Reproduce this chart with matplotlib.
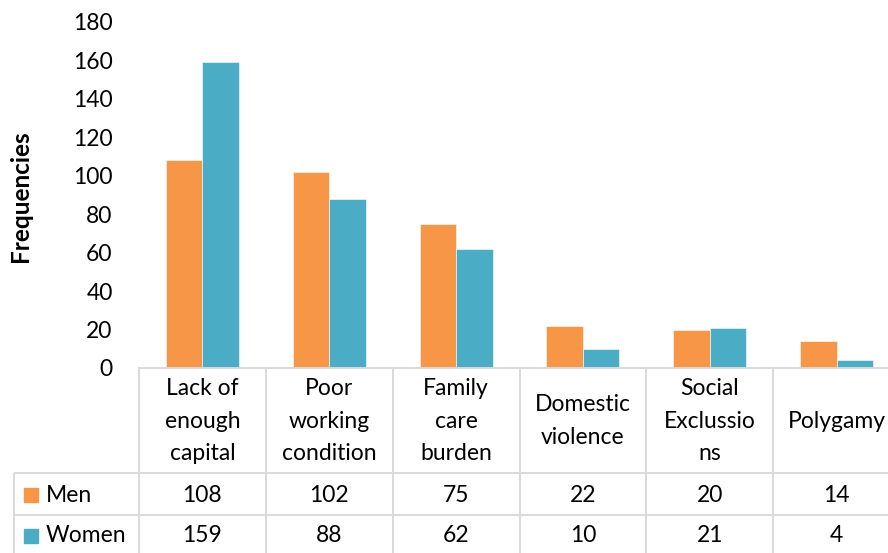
import matplotlib
matplotlib.use("Agg")
import matplotlib.pyplot as plt
from matplotlib.patches import Rectangle

categories = ["Lack of\nenough\ncapital", "Poor\nworking\ncondition", "Family\ncare\nburden",
              "Domestic\nviolence", "Social\nExclussio\nns", "Polygamy"]
series_names = ["Men", "Women"]
men = [108, 102, 75, 22, 20, 14]
women = [159, 88, 62, 10, 21, 4]
yticks = [0, 20, 40, 60, 80, 100, 120, 140, 160, 180]

colors = ["#F79646", "#4BACC6"]
grid_c = "#D9D9D9"
FONT = "Lato"
FS = 16.5
plt.rcParams["font.family"] = [FONT, "DejaVu Sans"]

W, H = 888, 553
fig = plt.figure(figsize=(W / 100, H / 100), dpi=100)

def fx(px):
    return px / W

def fy(py):
    return 1 - py / H

# main axes
ax_l, ax_r, ax_t, ax_b = 139, 900, 22, 368
ax = fig.add_axes([fx(ax_l), fy(ax_b), fx(ax_r - ax_l), (ax_b - ax_t) / H])
n = len(categories)
bw = 0.288
xs = list(range(n))
ax.bar([x - bw / 2 for x in xs], men, width=bw, color=colors[0], edgecolor="white", linewidth=0.4)
ax.bar([x + bw / 2 for x in xs], women, width=bw, color=colors[1], edgecolor="white", linewidth=0.4)
ax.set_xlim(-0.5, n - 0.5)
ax.set_ylim(0, 180)
ax.set_yticks(yticks)
ax.set_yticklabels([str(v) for v in yticks], fontsize=FS)
ax.tick_params(axis="y", length=0, pad=19)
ax.set_xticks([])
for s in ["top", "right", "left"]:
    ax.spines[s].set_visible(False)
ax.spines["bottom"].set_color(grid_c)
ax.spines["bottom"].set_linewidth(1.4)
ax.patch.set_alpha(0)
fig.text(fx(21), fy(196), "Frequencies", rotation=90, ha="center", va="center",
         fontsize=17.5, fontweight="bold")

# data table axes
col_w = (ax_r - ax_l) / n
tl = 14
tab = fig.add_axes([fx(tl), 0, fx(ax_r - tl), (H - 368) / H])
tab.set_xlim(-0.5 - (ax_l - tl) / col_w, n - 0.5)
tab.set_ylim(553, 368)
tab.axis("off")
tab.patch.set_alpha(0)
xl = -0.5 - (ax_l - tl) / col_w
row_edges = [369, 473, 515, 560]
lk = dict(color=grid_c, lw=1.4, clip_on=False, solid_capstyle="butt")
# vertical lines
for i in range(n + 1):
    tab.plot([i - 0.5, i - 0.5], [row_edges[0], row_edges[-1]], **lk)
tab.plot([xl, xl], [row_edges[1], row_edges[-1]], **lk)
for ye in row_edges[1:3]:
    tab.plot([xl, n - 0.5], [ye, ye], **lk)

for i, c in enumerate(categories):
    tab.text(i, 421, c, ha="center", va="center", fontsize=FS, linespacing=1.67,
             multialignment="center")

rows = [men, women]
row_centers = [495, 536]
for r, (name, vals, yc) in enumerate(zip(series_names, rows, row_centers)):
    for i, v in enumerate(vals):
        tab.text(i, yc, str(v), ha="center", va="center", fontsize=FS)
    fig.text(fx(46), fy(yc), name, ha="left", va="center", fontsize=FS)
    fig.patches.append(Rectangle((fx(24), fy(yc + 7)), fx(14), 14 / H,
                                 transform=fig.transFigure, color=colors[r]))

fig.savefig("out.png", dpi=100)
